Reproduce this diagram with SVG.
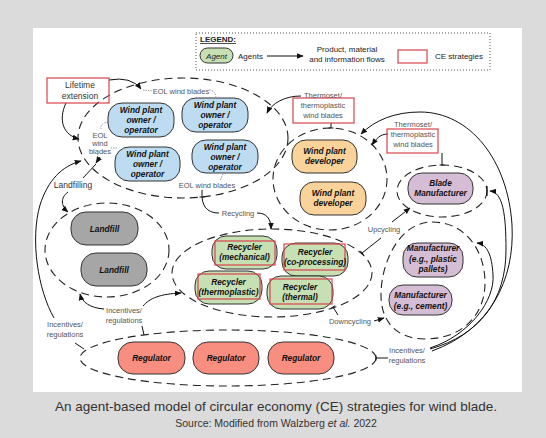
<svg xmlns="http://www.w3.org/2000/svg" width="546" height="438" viewBox="0 0 546 438">
<defs>
<marker id="ah" viewBox="0 0 10 10" refX="9" refY="5" markerWidth="7" markerHeight="7" markerUnits="userSpaceOnUse" orient="auto"><path d="M0,1 L10,5 L0,9 Z" fill="#111"/></marker>
<marker id="tee" viewBox="0 0 4 10" refX="2" refY="5" markerWidth="2" markerHeight="8" markerUnits="userSpaceOnUse" orient="auto"><path d="M2,0 L2,10" stroke="#111" stroke-width="2"/></marker>
<style>
.ell{fill:none;stroke:#222;stroke-width:1.1;stroke-dasharray:8 5}
.nd{stroke:#333;stroke-width:1}
.blue{fill:#bddcf1}.orange{fill:#fad39b}.grey{fill:#a6a6a6}.green{fill:#c6e0b4}.purple{fill:#d6bdd6}.red{fill:#f78e80}
.nt{font-family:"Liberation Sans",Arial,sans-serif;font-size:8.3px;font-weight:bold;font-style:italic;fill:#111;text-anchor:middle}
.lbl{font-family:"Liberation Sans",Arial,sans-serif;font-size:7.5px;fill:#555;text-anchor:middle}
.dk{font-family:"Liberation Sans",Arial,sans-serif;font-size:8.5px;fill:#333;text-anchor:middle}
.lg{font-family:"Liberation Sans",Arial,sans-serif;font-size:8px;fill:#222}
.ce{fill:none;stroke:#d8434c;stroke-width:1.2}
.fl{fill:none;stroke:#111;stroke-width:1}
.ar{marker-end:url(#ah)}
.ld{fill:none;stroke:#888;stroke-width:0.8;stroke-dasharray:1.5 1}
.cap{font-family:"Liberation Sans",Arial,sans-serif;fill:#333;text-anchor:middle}
</style>
</defs>
<rect x="0" y="0" width="546" height="438" fill="#dbdbdb"/>
<rect x="33" y="28" width="489" height="364" fill="#ffffff"/>

<g id="legend">
<rect x="196" y="33" width="294" height="37" fill="none" stroke="#555" stroke-width="1" stroke-dasharray="1 2"/>
<text x="200" y="42" class="lg" font-weight="bold" text-decoration="underline">LEGEND:</text>
<rect x="200" y="48" width="33" height="15" rx="7.5" class="green nd"/>
<text x="216.5" y="58.5" class="lg" text-anchor="middle" font-style="italic">Agent</text>
<text x="238" y="58.5" class="lg">Agents</text>
<path d="M267,56 L303,56" class="fl ar"/>
<text x="347" y="51.5" class="lg" text-anchor="middle">Product, material</text>
<text x="347" y="62" class="lg" text-anchor="middle">and information flows</text>
<rect x="398" y="50" width="29" height="13" class="ce"/>
<text x="435" y="58.5" class="lg">CE strategies</text>
</g>

<g id="agent-groups">
<ellipse id="grp-owners" cx="183" cy="138" rx="105" ry="60" class="ell"/>
<ellipse id="grp-developers" cx="330" cy="179" rx="57" ry="51" class="ell"/>
<ellipse id="grp-blade" cx="442" cy="191" rx="45" ry="26" class="ell"/>
<ellipse id="grp-landfill" cx="107" cy="250" rx="62" ry="47" class="ell"/>
<ellipse id="grp-recyclers" cx="272" cy="273" rx="100" ry="44" class="ell"/>
<path id="grp-manufacturers" d="M432,222 C465,222 485,250 485,283 C485,315 462,339 425,339 C395,339 381,320 381,295 C381,262 400,222 432,222 Z" class="ell"/>
<ellipse id="grp-regulators" cx="228" cy="358" rx="148" ry="28" class="ell"/>
</g>

<g id="connectors">
<path d="M109,80 Q131,76 141,89" class="fl ar"/>
<path d="M66,103 C58,120 63,135 79,139" class="fl ar"/>
<path d="M143,90 L153,91 M209,90 Q215,90 216,97" class="ld"/>
<path d="M108,122 Q100,123 101,129 M117,148 L111,148" class="ld"/>
<path d="M98,154 L97,159" class="ld"/>
<path d="M100,157 L96,163" class="fl ar"/>
<path d="M96,164 L83,178" class="fl"/>
<path d="M68,192 C60,198 61,206 68,212" class="fl ar"/>
<path d="M84,349 L75,343" class="fl"/>
<path d="M54,318 C38,290 30,240 40,205 C48,180 62,166 81,161" class="fl ar"/>
<path d="M142,326 L144,335" class="fl"/>
<path d="M104,309 C90,308 82,302 80,294" class="fl ar"/>
<path d="M143,306 C150,298 160,294 181,293" class="fl ar"/>
<path d="M223,174 L220,181" class="ld"/>
<path d="M202,190 L202,197" class="fl" marker-end="url(#tee)"/>
<path d="M202,197 C203,210 211,213 219,213" class="fl"/>
<path d="M257,213 C266,213 271,218 271,229" class="fl ar"/>
<path d="M301,96 C285,96 272,103 267,113" class="fl ar"/>
<path d="M331,123 L331,128" class="fl" marker-end="url(#tee)"/>
<path d="M388,134 C380,134 376,139 372,145" class="fl ar"/>
<path d="M442,153 L442,165" class="fl" marker-end="url(#tee)"/>
<path d="M381,238 L362,253" class="fl" marker-end="url(#tee)"/>
<path d="M392,222 L410,208" class="fl ar"/>
<path d="M338,315 L333,307" class="fl" marker-end="url(#tee)"/>
<path d="M374,321 L384,318" class="fl ar"/>
<path d="M388,358 L376,358" class="fl" marker-end="url(#tee)"/>
<path d="M430,348 C470,335 495,300 493,275 C492,255 487,244 477,243" class="fl ar"/>
<path d="M430,349 C480,335 506,300 506,250 C506,215 503,192 490,191" class="fl ar"/>
<path d="M487,186 L487,196" stroke="#111" stroke-width="1.2"/>
<path d="M432,351 C490,330 515,280 512,225 C508,160 470,112 420,112 C395,112 375,120 361,134" class="fl ar"/>
</g>

<g id="labels">
<g id="ce-lifetime">
<rect x="47" y="78" width="62" height="25" class="ce"/>
<text x="80" y="88" class="dk">Lifetime</text>
<text x="80" y="98.5" class="dk">extension</text>
</g>
<text x="181" y="93.5" class="lbl">EOL wind blades</text>
<text x="100" y="138" class="lbl">EOL</text>
<text x="100" y="146" class="lbl">wind</text>
<text x="100" y="154" class="lbl">blades</text>
<text x="73" y="188" class="dk">Landfilling</text>
<text x="207" y="188" class="lbl">EOL wind blades</text>
<text x="238" y="216" class="lbl">Recycling</text>
<g id="ce-thermoset-1">
<rect x="293" y="98" width="61" height="25" class="ce"/>
<text x="323" y="97.5" class="lbl">Thermoset/</text>
<text x="323" y="108" class="lbl">thermoplastic</text>
<text x="323" y="117.5" class="lbl">wind blades</text>
</g>
<g id="ce-thermoset-2">
<rect x="387" y="129" width="51" height="24" class="ce"/>
<text x="413" y="127" class="lbl">Thermoset/</text>
<text x="413" y="137" class="lbl">thermoplastic</text>
<text x="413" y="146.5" class="lbl">wind blades</text>
</g>
<text x="384" y="232" class="lbl">Upcycling</text>
<text x="350" y="323.5" class="lbl">Downcycling</text>
<text x="124" y="312.5" class="lbl">Incentives/</text>
<text x="124" y="322.5" class="lbl">regulations</text>
<text x="65" y="327" class="lbl">Incentives/</text>
<text x="65" y="337" class="lbl">regulations</text>
<text x="407" y="352.5" class="lbl">Incentives/</text>
<text x="407" y="362.5" class="lbl">regulations</text>
</g>

<g id="owner-1"><rect x="108" y="103" width="66" height="34" rx="14" class="nd blue"/><text class="nt" x="141" y="113">Wind plant</text><text class="nt" x="141" y="123">owner /</text><text class="nt" x="141" y="133">operator</text></g>
<g id="owner-2"><rect x="182" y="98" width="66" height="34" rx="14" class="nd blue"/><text class="nt" x="215" y="108">Wind plant</text><text class="nt" x="215" y="118">owner /</text><text class="nt" x="215" y="128">operator</text></g>
<g id="owner-3"><rect x="115" y="147" width="65" height="34" rx="14" class="nd blue"/><text class="nt" x="147.5" y="157">Wind plant</text><text class="nt" x="147.5" y="167">owner /</text><text class="nt" x="147.5" y="177">operator</text></g>
<g id="owner-4"><rect x="192" y="140" width="66" height="33" rx="14" class="nd blue"/><text class="nt" x="225" y="149.5">Wind plant</text><text class="nt" x="225" y="159.5">owner /</text><text class="nt" x="225" y="169.5">operator</text></g>

<g id="developer-1"><rect x="292" y="140" width="65" height="33" rx="14" class="nd orange"/><text class="nt" x="324.5" y="154">Wind plant</text><text class="nt" x="324.5" y="164">developer</text></g>
<g id="developer-2"><rect x="300" y="182" width="66" height="33" rx="14" class="nd orange"/><text class="nt" x="333" y="195.5">Wind plant</text><text class="nt" x="333" y="205.5">developer</text></g>

<g id="blade-manufacturer"><rect x="408" y="173" width="65" height="31" rx="14" class="nd purple"/><text class="nt" x="440.5" y="185.5">Blade</text><text class="nt" x="440.5" y="195.5">Manufacturer</text></g>

<g id="manufacturer-1"><rect x="403" y="243" width="60" height="34" rx="14" class="nd purple"/><text class="nt" x="433" y="251">Manufacturer</text><text class="nt" x="433" y="262">(e.g., plastic</text><text class="nt" x="433" y="272">pallets)</text></g>
<g id="manufacturer-2"><rect x="389" y="285" width="63" height="30" rx="14" class="nd purple"/><text class="nt" x="420.5" y="298">Manufacturer</text><text class="nt" x="420.5" y="309">(e.g., cement)</text></g>

<g id="landfill-1"><rect x="71" y="212" width="67" height="33" rx="15" class="nd grey"/><text class="nt" x="104.5" y="231.5">Landfill</text></g>
<g id="landfill-2"><rect x="81" y="253" width="66" height="33" rx="15" class="nd grey"/><text class="nt" x="114" y="272.5">Landfill</text></g>

<g id="recycler-mechanical"><rect x="212" y="236" width="65" height="33" rx="14" class="nd green"/><rect x="215" y="241" width="60" height="24" class="ce"/><text class="nt" x="244.5" y="250">Recycler</text><text class="nt" x="244.5" y="260">(mechanical)</text></g>
<g id="recycler-coprocessing"><rect x="282" y="243" width="66" height="33" rx="14" class="nd green"/><rect x="284" y="244" width="61" height="26" class="ce"/><text class="nt" x="315" y="255">Recycler</text><text class="nt" x="315" y="265">(co-processing)</text></g>
<g id="recycler-thermoplastic"><rect x="195" y="271" width="67" height="33" rx="14" class="nd green"/><rect x="198" y="274" width="62" height="25" class="ce"/><text class="nt" x="228.5" y="285">Recycler</text><text class="nt" x="228.5" y="294.5">(thermoplastic)</text></g>
<g id="recycler-thermal"><rect x="267" y="276" width="66" height="33" rx="14" class="nd green"/><rect x="270" y="279" width="62" height="25" class="ce"/><text class="nt" x="300" y="290">Recycler</text><text class="nt" x="300" y="300">(thermal)</text></g>

<g id="regulator-1"><rect x="118" y="342" width="67" height="32" rx="15" class="nd red"/><text class="nt" x="151.5" y="361">Regulator</text></g>
<g id="regulator-2"><rect x="193" y="342" width="66" height="32" rx="15" class="nd red"/><text class="nt" x="226" y="361">Regulator</text></g>
<g id="regulator-3"><rect x="268" y="342" width="66" height="32" rx="15" class="nd red"/><text class="nt" x="301" y="361">Regulator</text></g>

<g id="caption">
<text x="276" y="411" class="cap" font-size="13.5">An agent-based model of circular economy (CE) strategies for wind blade.</text>
<text x="276" y="427" class="cap" font-size="10.5">Source: Modified from Walzberg <tspan font-style="italic">et al.</tspan> 2022</text>
</g>
</svg>
